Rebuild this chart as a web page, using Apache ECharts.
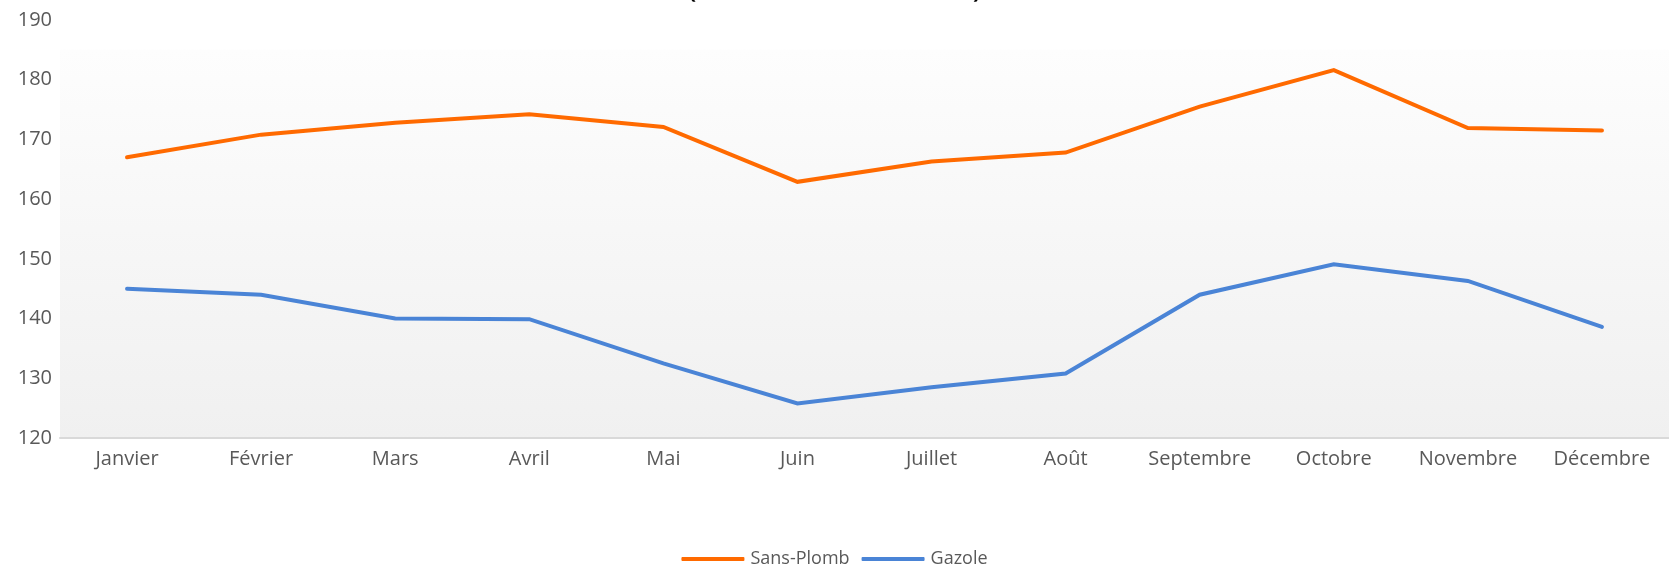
<!DOCTYPE html>
<html>
<head>
<meta charset="utf-8">
<script src="https://cdn.jsdelivr.net/npm/echarts@6/dist/echarts.min.js"></script>
<style>
html,body{margin:0;padding:0;background:#fff;}
#chart{width:1669px;height:570px;}
</style>
</head>
<body>
<div id="chart"></div>
<script>
const months = ['Janvier','Février','Mars','Avril','Mai','Juin','Juillet','Août','Septembre','Octobre','Novembre','Décembre'];
const sansPlomb = [167.0, 170.8, 172.8, 174.2, 172.1, 162.9, 166.3, 167.8, 175.5, 181.6, 171.9, 171.5];
const gazole = [145.0, 144.0, 140.0, 139.9, 132.5, 125.8, 128.5, 130.8, 144.0, 149.1, 146.3, 138.6];
const yTicks = {min: 120, max: 190, interval: 10};
const plotAreaTop = 185;
const titleText = "(en centimes d'euro / litre)";

const chart = echarts.init(document.getElementById('chart'), null, {renderer: 'canvas'});
const font = '"Open Sans", sans-serif';
chart.setOption({
  animation: false,
  backgroundColor: '#ffffff',
  title: {
    text: titleText,
    left: 'center',
    top: -24,
    textStyle: {fontFamily: font, fontSize: 22, fontWeight: 'bold', color: '#000000'}
  },
  grid: {left: 60, right: 0, top: 20, bottom: 132, containLabel: false},
  legend: {
    bottom: 2,
    padding: 0,
    left: 'center',
    itemWidth: 63,
    itemHeight: 4,
    itemGap: 12,
    icon: 'roundRect',
    textStyle: {fontFamily: font, fontSize: 18, color: '#595959', padding: [0, 0, 0, 1]},
    data: ['Sans-Plomb', 'Gazole']
  },
  xAxis: {
    type: 'category',
    data: months,
    boundaryGap: true,
    axisLine: {show: true, lineStyle: {color: '#d9d9d9', width: 2}},
    axisTick: {show: false},
    axisLabel: {fontFamily: font, fontSize: 20, color: '#595959', margin: 11, interval: 0}
  },
  yAxis: {
    type: 'value',
    min: yTicks.min,
    max: yTicks.max,
    interval: yTicks.interval,
    axisLine: {show: false},
    axisTick: {show: false},
    splitLine: {show: false},
    axisLabel: {fontFamily: font, fontSize: 20, color: '#595959', margin: 8}
  },
  series: [
    {
      name: 'Sans-Plomb',
      type: 'line',
      data: sansPlomb,
      symbol: 'none',
      lineStyle: {color: '#FF6A00', width: 4, cap: 'round', join: 'miter'},
      itemStyle: {color: '#FF6A00'},
      z: 3,
      markArea: {
        silent: true,
        z: -1,
        itemStyle: {
          color: new echarts.graphic.LinearGradient(0, 0, 0, 1, [
            {offset: 0, color: '#fdfdfd'},
            {offset: 1, color: '#f0f0f0'}
          ])
        },
        data: [[{yAxis: yTicks.min}, {yAxis: plotAreaTop}]]
      }
    },
    {
      name: 'Gazole',
      type: 'line',
      data: gazole,
      symbol: 'none',
      lineStyle: {color: '#4A84D6', width: 4, cap: 'round', join: 'miter'},
      itemStyle: {color: '#4A84D6'},
      z: 3
    }
  ]
});
</script>
</body>
</html>
